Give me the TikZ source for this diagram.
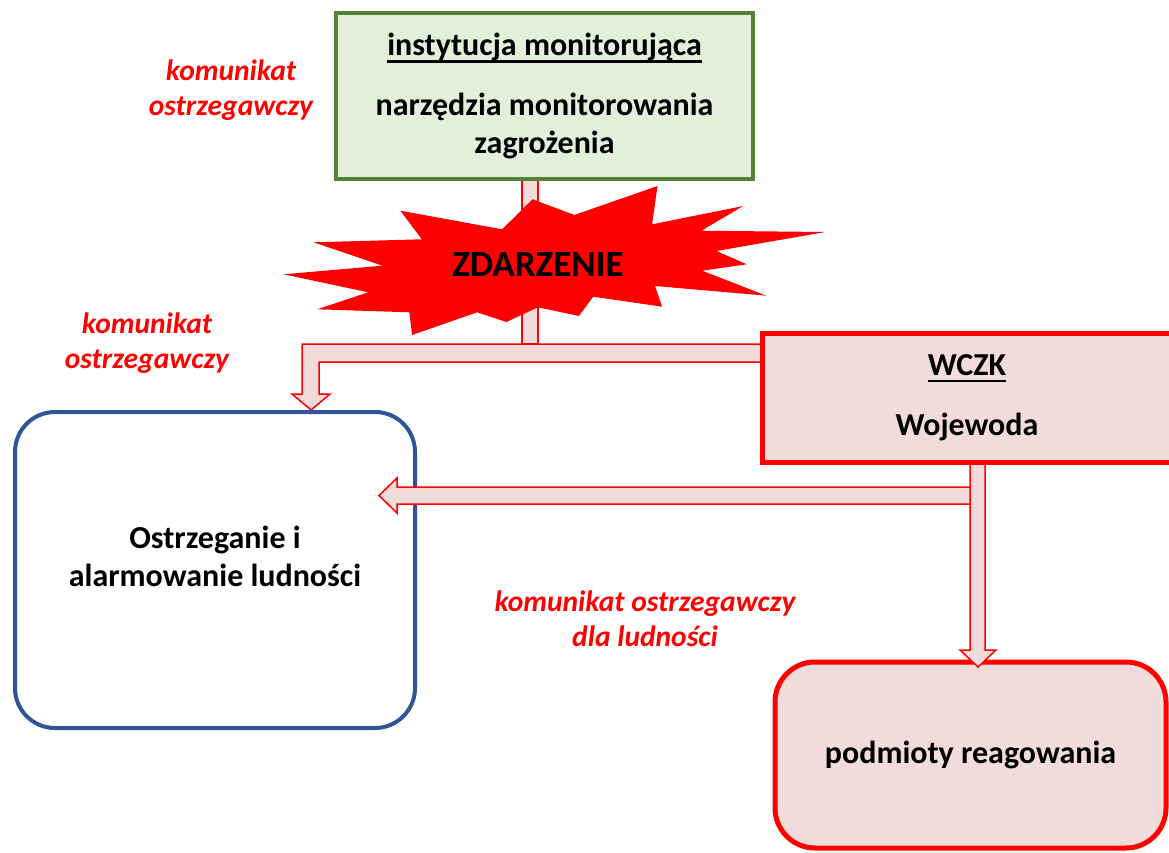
\documentclass[tikz,border=0pt]{standalone}
\usepackage{fontspec}
\setmainfont{Carlito}
\definecolor{ciemnozielony}{HTML}{548235}
\definecolor{jasnozielony}{HTML}{E2EFDA}
\definecolor{rozowy}{HTML}{F2DCDB}
\definecolor{niebieski}{HTML}{2F5597}
\newcommand\podkresl[1]{\setbox0\hbox{#1}\rlap{\rule[-7pt]{\wd0}{2.5pt}}\box0}

\begin{document}
\begin{tikzpicture}[x=1pt,y=-1pt,
  tekst/.style={font=\fontsize{32}{38}\selectfont\bfseries, align=center},
  opis/.style={font=\fontsize{29.5}{35}\selectfont\bfseries\itshape, text=red, align=center},
  rura/.style={draw=red, line width=1.5pt, fill=rozowy}]
  \useasboundingbox (0,0) rectangle (1169,853);

  % strzalka do ludnosci (gora)
  \draw [rura] (770,344) -- (302,344) -- (302,394) -- (292,394) -- (311,410)
    -- (330,394) -- (319,394) -- (319,362) -- (770,362);
  \draw [rura] (522,170) rectangle (538,344);

  % instytucja
  \node [tekst, draw=ciemnozielony, line width=4pt, fill=jasnozielony,
    minimum width=417pt, minimum height=166pt] (monitor) at (544.5,96)
    {\podkresl{instytucja monitorująca}\\[22pt]narzędzia monitorowania\\zagrożenia};

  % zdarzenie
  \fill [red] (400.4,210.7) -- (502.1,229.3) -- (532.5,199.3) -- (574.3,215)
    -- (657.5,186) -- (652.1,224.3) -- (743.2,206) -- (701.4,230.7)
    -- (825.4,232) -- (716.4,251) -- (746.8,264.3) -- (702.1,270.7)
    -- (766.4,295.7) -- (655,286) -- (662.1,306.7) -- (593.2,296.7)
    -- (578.9,316) -- (537.9,307.3) -- (506.4,322) -- (477.1,312.3)
    -- (412.1,335) -- (409.3,312.3) -- (317.1,309.3) -- (368.2,292.3)
    -- (283.6,274.3) -- (382.5,265.7) -- (313.6,242.3) -- (421.8,239.3) -- cycle;
  \node [font=\fontsize{37}{40}\selectfont\bfseries] (zdarzenie) at (538,265) {ZDARZENIE};

  % ludnosc
  \node [draw=niebieski, line width=4pt, rounded corners=40pt,
    minimum width=400pt, minimum height=316pt] (ludnosc) at (215,570) {};
  \node [tekst] (ludnosctxt) at (215,556) {Ostrzeganie i\\alarmowanie ludności};

  % podmioty
  \node [tekst, draw=red, line width=5pt, fill=rozowy, rounded corners=40pt,
    minimum width=391pt, minimum height=186pt] (podmioty) at (970.5,755)
    {podmioty reagowania};

  % strzalki od wojewody
  \draw [rura] (975,487) -- (397,487) -- (397,478) -- (379,495.5) -- (397,513)
    -- (397,504) -- (975,504);
  \draw [rura] (970,455) -- (970,650) -- (960,650) -- (978,667) -- (996,650)
    -- (985,650) -- (985,455);

  % wojewoda
  \node [tekst, draw=red, line width=5pt, fill=rozowy,
    minimum width=410pt, minimum height=129pt] (wczk) at (967,397.5)
    {\podkresl{WCZK}\\[22pt]Wojewoda};

  % komunikaty
  \node [opis] (kom1) at (231,90) {komunikat\\ostrzegawczy};
  \node [opis] (kom2) at (147,343) {komunikat\\ostrzegawczy};
  \node [opis] (kom3) at (645,619) {komunikat ostrzegawczy\\dla ludności};
\end{tikzpicture}
\end{document}
